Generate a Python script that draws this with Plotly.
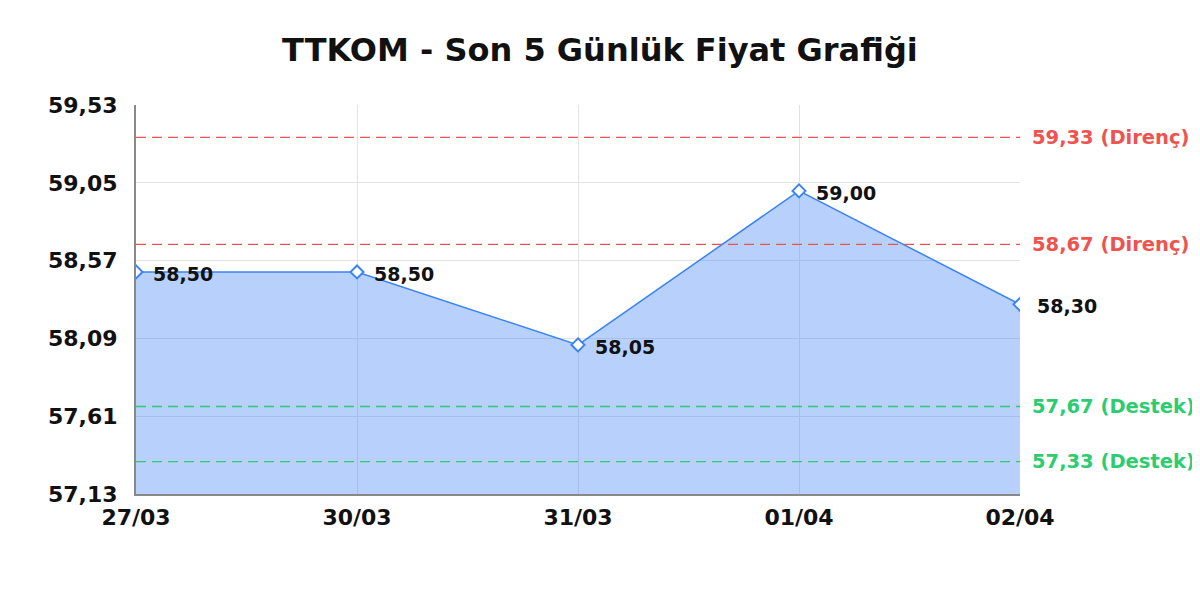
import plotly.graph_objects as go

dates = ["27/03", "30/03", "31/03", "01/04", "02/04"]
prices = [58.50, 58.50, 58.05, 59.00, 58.30]
resistance = [59.33, 58.67]
support = [57.67, 57.33]
y_ticks = [57.13, 57.61, 58.09, 58.57, 59.05, 59.53]
title = "TTKOM - Son 5 Günlük Fiyat Grafiği"

FONT = "DejaVu Sans"
LINE = "#3b82f6"
FILL = "rgba(59,130,246,0.37)"
RED = "#ef5350"
GREEN = "#2ecc71"

def fmt(v):
    return f"{v:.2f}".replace(".", ",")

fig = go.Figure()
fig.add_trace(go.Scatter(
    x=dates, y=[y_ticks[0]] * len(dates), mode="lines",
    line=dict(width=0), hoverinfo="skip", showlegend=False))
fig.add_trace(go.Scatter(
    x=dates, y=prices, mode="lines+markers", fill="tonexty",
    fillcolor=FILL, line=dict(color=LINE, width=1.5),
    marker=dict(symbol="diamond", size=10, color="white",
                line=dict(color=LINE, width=2)),
    showlegend=False))

annotations = []
for d, p in zip(dates, prices):
    annotations.append(dict(x=d, y=p, xref="x", yref="y", text=fmt(p),
                            showarrow=False, xanchor="left", yanchor="middle",
                            xshift=15, yshift=-2,
                            font=dict(family=FONT, size=19, color="#111", weight="bold")))

shapes = []
for lvl in resistance:
    shapes.append(dict(type="line", xref="paper", x0=0, x1=1, yref="y", y0=lvl, y1=lvl,
                       line=dict(color=RED, width=1.4, dash="10px,6px")))
    annotations.append(dict(x=1.0, y=lvl, xref="paper", yref="y",
                            text=f"{fmt(lvl)} (Direnç)", showarrow=False,
                            xanchor="left", yanchor="middle", xshift=10,
                            font=dict(family=FONT, size=19.5, color=RED, weight="bold")))
for lvl in support:
    shapes.append(dict(type="line", xref="paper", x0=0, x1=1, yref="y", y0=lvl, y1=lvl,
                       line=dict(color=GREEN, width=1.4, dash="10px,6px")))
    annotations.append(dict(x=1.0, y=lvl, xref="paper", yref="y",
                            text=f"{fmt(lvl)} (Destek)", showarrow=False,
                            xanchor="left", yanchor="middle", xshift=10,
                            font=dict(family=FONT, size=19.5, color=GREEN, weight="bold")))

fig.update_layout(
    width=1200, height=600,
    paper_bgcolor="white", plot_bgcolor="white",
    margin=dict(l=128, r=188, t=97, b=114),
    separators=",.",
    title=dict(text=title, x=0.4933, xanchor="center", y=0.93, yanchor="middle",
               font=dict(family=FONT, size=32, color="#111", weight="bold")),
    xaxis=dict(type="category", range=[0, len(dates) - 1],
               showgrid=True, gridcolor="#e3e3e3", gridwidth=1,
               showline=True, linecolor="#888", linewidth=2,
               ticks="", ticklabelstandoff=3,
               tickfont=dict(family=FONT, size=22, color="#111", weight="bold"),
               zeroline=False),
    yaxis=dict(range=[y_ticks[0], y_ticks[-1]], tickvals=y_ticks,
               ticktext=[fmt(v) for v in y_ticks],
               showgrid=True, gridcolor="#e3e3e3", gridwidth=1,
               showline=True, linecolor="#888", linewidth=2,
               ticks="", ticklabelstandoff=12,
               tickfont=dict(family=FONT, size=22, color="#111", weight="bold"),
               zeroline=False),
    shapes=shapes, annotations=annotations,
)

fig.write_html("out.html")
